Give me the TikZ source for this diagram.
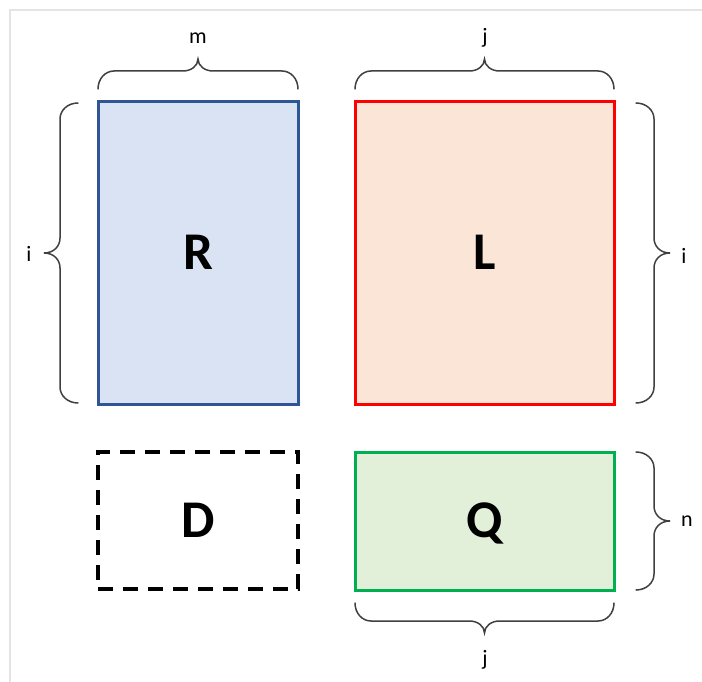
\documentclass[tikz,border=0pt]{standalone}
\usepackage{fontspec}
\setmainfont{Carlito}
\definecolor{rblue}{HTML}{2F5597}
\definecolor{rbluefill}{HTML}{DAE3F3}
\definecolor{lred}{HTML}{FF0000}
\definecolor{lredfill}{HTML}{FBE5D6}
\definecolor{qgreen}{HTML}{00B050}
\definecolor{qgreenfill}{HTML}{E2F0D9}
\definecolor{bracegray}{HTML}{404040}
\definecolor{framegray}{HTML}{E4E4E4}
\tikzset{
  matbox/.style={line width=3pt, inner sep=0pt, text height=33pt, text depth=0pt, font=\fontsize{53}{60}\selectfont\bfseries},
  bracestyle/.style={draw=bracegray, line width=1.5pt, line cap=round},
  dimlabel/.style={font=\fontsize{22}{26}\selectfont, text=black, inner sep=0pt}
}
% horizontal brace: x1, x2, y of ends, direction (+1 = tip up, -1 = tip down)
\newcommand{\HBrace}[4]{%
  \draw[bracestyle] (#1,#3) .. controls (#1,{#3-10*#4}) and ({#1+7},{#3-18*#4}) .. ({#1+16},{#3-18*#4})
    -- ({(#1+#2)/2-15},{#3-18*#4}) .. controls ({(#1+#2)/2-7},{#3-18*#4}) and ({(#1+#2)/2},{#3-23*#4}) .. ({(#1+#2)/2},{#3-30*#4})
    .. controls ({(#1+#2)/2},{#3-23*#4}) and ({(#1+#2)/2+7},{#3-18*#4}) .. ({(#1+#2)/2+15},{#3-18*#4})
    -- ({#2-16},{#3-18*#4}) .. controls ({#2-7},{#3-18*#4}) and (#2,{#3-10*#4}) .. (#2,#3);}
% vertical brace: y1, y2, x of ends, direction (+1 = tip right, -1 = tip left)
\newcommand{\VBrace}[4]{%
  \draw[bracestyle] (#3,#1) .. controls ({#3+10*#4},#1) and ({#3+18*#4},{#1+7}) .. ({#3+18*#4},{#1+16})
    -- ({#3+18*#4},{(#1+#2)/2-15}) .. controls ({#3+18*#4},{(#1+#2)/2-7}) and ({#3+24*#4},{(#1+#2)/2}) .. ({#3+34*#4},{(#1+#2)/2})
    .. controls ({#3+24*#4},{(#1+#2)/2}) and ({#3+18*#4},{(#1+#2)/2+7}) .. ({#3+18*#4},{(#1+#2)/2+15})
    -- ({#3+18*#4},{#2-16}) .. controls ({#3+18*#4},{#2-7}) and ({#3+10*#4},#2) .. (#3,#2);}
\begin{document}
\begin{tikzpicture}[x=1pt,y=-1pt]
\useasboundingbox (0,0) rectangle (702,682);
\fill[white] (0,0) rectangle (702,682);
\draw[framegray, line width=1.5pt] (10,682) -- (10,10) -- (702,10);

% matrices
\node[matbox, draw=rblue, fill=rbluefill, minimum width=200pt, minimum height=302pt] (R) at (198,253) {R};
\node[matbox, draw=lred, fill=lredfill, minimum width=259pt, minimum height=302pt] (L) at (484.5,253) {L};
\node[matbox, draw=black, dash pattern=on 15pt off 10pt, line width=3.5pt, minimum width=200pt, minimum height=137pt] (D) at (198,520.5) {D};
\node[matbox, draw=qgreen, fill=qgreenfill, minimum width=259pt, minimum height=138pt] (Q) at (484.5,521) {Q};

% braces
\HBrace{98}{298}{89}{1}
\HBrace{355}{614}{89}{1}
\HBrace{355}{614}{603}{-1}
\VBrace{103}{403}{78}{-1}
\VBrace{103}{403}{636}{1}
\VBrace{452}{590}{636}{1}

% labels
\node[dimlabel] (lm) at (198,38) {m};
\node[dimlabel] (lj1) at (485,38) {j};
\node[dimlabel] (li1) at (29,254) {i};
\node[dimlabel] (li2) at (684,256) {i};
\node[dimlabel] (ln) at (687,521) {n};
\node[dimlabel] (lj2) at (485,660) {j};
\end{tikzpicture}
\end{document}
